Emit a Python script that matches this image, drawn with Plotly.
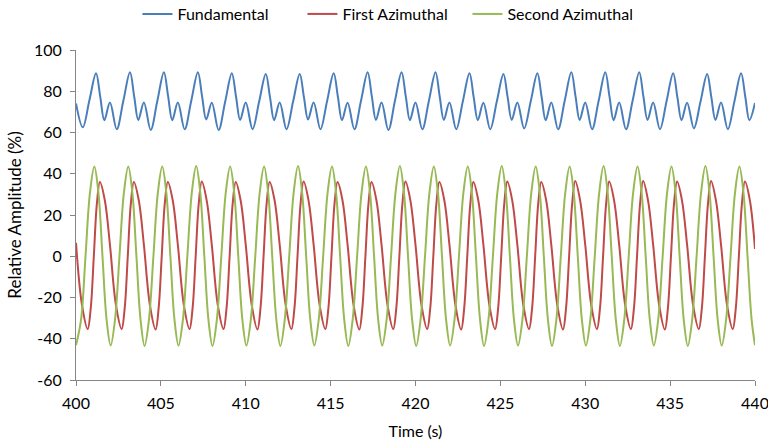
import plotly.graph_objects as go

# ---- data (key points; drawn with spline smoothing) ----
fund_t = [
    400.00, 400.40, 400.79, 401.18, 401.43, 401.67,
    402.00, 402.40, 402.79, 403.18, 403.43, 403.67,
    404.00, 404.40, 404.79, 405.18, 405.43, 405.67,
    406.00, 406.40, 406.79, 407.18, 407.43, 407.67,
    408.00, 408.40, 408.79, 409.18, 409.43, 409.67,
    410.00, 410.40, 410.79, 411.18, 411.43, 411.67,
    412.00, 412.40, 412.79, 413.18, 413.43, 413.67,
    414.00, 414.40, 414.79, 415.18, 415.43, 415.67,
    416.00, 416.40, 416.79, 417.18, 417.43, 417.67,
    418.00, 418.40, 418.79, 419.18, 419.43, 419.67,
    420.00, 420.40, 420.79, 421.18, 421.43, 421.67,
    422.00, 422.40, 422.79, 423.18, 423.43, 423.67,
    424.00, 424.40, 424.79, 425.18, 425.43, 425.67,
    426.00, 426.40, 426.79, 427.18, 427.43, 427.67,
    428.00, 428.40, 428.79, 429.18, 429.43, 429.67,
    430.00, 430.40, 430.79, 431.18, 431.43, 431.67,
    432.00, 432.40, 432.79, 433.18, 433.43, 433.67,
    434.00, 434.40, 434.79, 435.18, 435.43, 435.67,
    436.00, 436.40, 436.79, 437.18, 437.43, 437.67,
    438.00, 438.40, 438.79, 439.18, 439.43, 439.67,
    440.00,
]
fund_v = [
    74.1, 62.5, 75.6, 88.7, 77.2, 66.0,
    74.5, 61.6, 75.4, 89.2, 77.4, 66.1,
    74.6, 61.2, 75.3, 89.2, 77.4, 66.0,
    74.5, 61.6, 75.4, 89.2, 77.4, 66.3,
    74.4, 61.2, 75.0, 88.7, 77.2, 66.1,
    74.5, 61.6, 75.0, 88.4, 77.0, 66.0,
    74.5, 61.6, 75.0, 88.4, 77.0, 66.3,
    74.5, 61.6, 75.2, 88.7, 77.2, 66.0,
    74.4, 61.6, 75.4, 89.2, 77.4, 66.1,
    74.5, 61.2, 75.4, 89.2, 77.4, 66.0,
    74.5, 61.6, 75.4, 89.2, 77.2, 66.1,
    74.5, 61.6, 75.2, 88.7, 77.0, 66.0,
    74.4, 61.6, 75.0, 88.4, 77.0, 66.1,
    74.5, 62.0, 75.2, 88.7, 77.2, 66.0,
    74.5, 61.6, 75.4, 89.2, 77.4, 66.1,
    74.6, 61.6, 75.4, 89.2, 77.4, 66.0,
    74.5, 61.6, 75.4, 89.2, 77.2, 66.1,
    74.5, 61.6, 75.2, 88.7, 77.0, 66.0,
    74.4, 62.0, 75.0, 88.4, 77.0, 66.1,
    74.5, 61.6, 75.2, 88.7, 77.2, 66.0,
    74.3,
]

first_t = [
    400.00, 400.35, 400.69, 400.87, 401.05, 401.23, 401.41, 401.70,
    402.00, 402.35, 402.69, 402.87, 403.05, 403.23, 403.41, 403.70,
    404.00, 404.35, 404.69, 404.87, 405.05, 405.23, 405.41, 405.70,
    406.00, 406.35, 406.69, 406.87, 407.05, 407.23, 407.41, 407.70,
    408.00, 408.35, 408.69, 408.87, 409.05, 409.23, 409.41, 409.70,
    410.00, 410.35, 410.69, 410.87, 411.05, 411.23, 411.41, 411.70,
    412.00, 412.35, 412.69, 412.87, 413.05, 413.23, 413.41, 413.70,
    414.00, 414.35, 414.69, 414.87, 415.05, 415.23, 415.41, 415.70,
    416.00, 416.35, 416.69, 416.87, 417.05, 417.23, 417.41, 417.70,
    418.00, 418.35, 418.69, 418.87, 419.05, 419.23, 419.41, 419.70,
    420.00, 420.35, 420.69, 420.87, 421.05, 421.23, 421.41, 421.70,
    422.00, 422.35, 422.69, 422.87, 423.05, 423.23, 423.41, 423.70,
    424.00, 424.35, 424.69, 424.87, 425.05, 425.23, 425.41, 425.70,
    426.00, 426.35, 426.69, 426.87, 427.05, 427.23, 427.41, 427.70,
    428.00, 428.35, 428.69, 428.87, 429.05, 429.23, 429.41, 429.70,
    430.00, 430.35, 430.69, 430.87, 431.05, 431.23, 431.41, 431.70,
    432.00, 432.35, 432.69, 432.87, 433.05, 433.23, 433.41, 433.70,
    434.00, 434.35, 434.69, 434.87, 435.05, 435.23, 435.41, 435.70,
    436.00, 436.35, 436.69, 436.87, 437.05, 437.23, 437.41, 437.70,
    438.00, 438.35, 438.69, 438.87, 439.05, 439.23, 439.41, 439.70,
    440.00,
]
first_v = [
    6.5, -23.5, -35.3, -25.0, 0.0, 25.5, 36.0, 27.0,
    5.5, -23.5, -35.3, -25.0, 0.0, 25.5, 36.0, 27.0,
    5.5, -23.5, -35.5, -25.0, 0.0, 25.5, 36.0, 27.0,
    5.5, -23.5, -35.3, -25.0, 0.0, 25.5, 36.2, 27.0,
    5.5, -23.5, -35.3, -25.0, 0.0, 25.5, 36.0, 27.0,
    5.5, -23.5, -35.5, -25.0, 0.0, 25.5, 36.0, 27.0,
    5.5, -23.5, -35.3, -25.0, 0.0, 25.5, 36.2, 27.0,
    5.5, -23.5, -35.3, -25.0, 0.0, 25.5, 36.0, 27.0,
    5.5, -23.5, -35.5, -25.0, 0.0, 25.5, 36.0, 27.0,
    5.5, -23.5, -35.3, -25.0, 0.0, 25.5, 36.2, 27.0,
    5.5, -23.5, -35.3, -25.0, 0.0, 25.5, 36.0, 27.0,
    5.5, -23.5, -35.5, -25.0, 0.0, 25.5, 36.0, 27.0,
    5.5, -23.5, -35.3, -25.0, 0.0, 25.5, 36.2, 27.0,
    5.5, -23.5, -35.3, -25.0, 0.0, 25.5, 36.0, 27.0,
    5.5, -23.5, -35.5, -25.0, 0.0, 25.5, 36.5, 27.0,
    5.5, -23.5, -35.3, -25.0, 0.0, 25.5, 36.2, 27.0,
    5.5, -23.5, -35.3, -25.0, 0.0, 25.5, 36.5, 27.0,
    5.5, -23.5, -35.5, -25.0, 0.0, 25.5, 36.2, 27.0,
    5.5, -23.5, -35.3, -25.0, 0.0, 25.5, 36.5, 27.0,
    5.5, -23.5, -35.3, -25.0, 0.0, 25.5, 36.2, 27.0,
    3.5,
]

second_t = [
    400.00, 400.30, 400.56, 400.82, 401.08, 401.32, 401.56, 401.80,
    402.04, 402.30, 402.56, 402.82, 403.08, 403.32, 403.56, 403.80,
    404.04, 404.30, 404.56, 404.82, 405.08, 405.32, 405.56, 405.80,
    406.04, 406.30, 406.56, 406.82, 407.08, 407.32, 407.56, 407.80,
    408.04, 408.30, 408.56, 408.82, 409.08, 409.32, 409.56, 409.80,
    410.04, 410.30, 410.56, 410.82, 411.08, 411.32, 411.56, 411.80,
    412.04, 412.30, 412.56, 412.82, 413.08, 413.32, 413.56, 413.80,
    414.04, 414.30, 414.56, 414.82, 415.08, 415.32, 415.56, 415.80,
    416.04, 416.30, 416.56, 416.82, 417.08, 417.32, 417.56, 417.80,
    418.04, 418.30, 418.56, 418.82, 419.08, 419.32, 419.56, 419.80,
    420.04, 420.30, 420.56, 420.82, 421.08, 421.32, 421.56, 421.80,
    422.04, 422.30, 422.56, 422.82, 423.08, 423.32, 423.56, 423.80,
    424.04, 424.30, 424.56, 424.82, 425.08, 425.32, 425.56, 425.80,
    426.04, 426.30, 426.56, 426.82, 427.08, 427.32, 427.56, 427.80,
    428.04, 428.30, 428.56, 428.82, 429.08, 429.32, 429.56, 429.80,
    430.04, 430.30, 430.56, 430.82, 431.08, 431.32, 431.56, 431.80,
    432.04, 432.30, 432.56, 432.82, 433.08, 433.32, 433.56, 433.80,
    434.04, 434.30, 434.56, 434.82, 435.08, 435.32, 435.56, 435.80,
    436.04, 436.30, 436.56, 436.82, 437.08, 437.32, 437.56, 437.80,
    438.04, 438.30, 438.56, 438.82, 439.08, 439.32, 439.56, 439.80,
    440.00,
]
second_v = [
    -43.2, -30.6, 0.0, 30.6, 43.5, 30.8, 0.0, -30.6,
    -43.3, -30.6, 0.0, 30.6, 43.5, 30.8, 0.0, -30.6,
    -43.5, -30.6, 0.0, 30.6, 43.5, 30.8, 0.0, -30.6,
    -43.3, -30.6, 0.0, 30.6, 43.7, 30.8, 0.0, -30.6,
    -43.5, -30.6, 0.0, 30.6, 43.5, 30.8, 0.0, -30.6,
    -43.3, -30.6, 0.0, 30.6, 43.5, 30.8, 0.0, -30.6,
    -43.5, -30.6, 0.0, 30.6, 43.7, 30.8, 0.0, -30.6,
    -43.3, -30.6, 0.0, 30.6, 43.5, 30.8, 0.0, -30.6,
    -43.5, -30.6, 0.0, 30.6, 43.5, 30.8, 0.0, -30.6,
    -43.3, -30.6, 0.0, 30.6, 43.7, 30.8, 0.0, -30.6,
    -43.5, -30.6, 0.0, 30.6, 43.5, 30.8, 0.0, -30.6,
    -43.3, -30.6, 0.0, 30.6, 43.5, 30.8, 0.0, -30.6,
    -43.5, -30.6, 0.0, 30.6, 43.7, 30.8, 0.0, -30.6,
    -43.3, -30.6, 0.0, 30.6, 43.5, 30.8, 0.0, -30.6,
    -43.5, -30.6, 0.0, 30.6, 43.5, 30.8, 0.0, -30.6,
    -43.3, -30.6, 0.0, 30.6, 43.7, 30.8, 0.0, -30.6,
    -43.5, -30.6, 0.0, 30.6, 43.5, 30.8, 0.0, -30.6,
    -43.3, -30.6, 0.0, 30.6, 43.5, 30.8, 0.0, -30.6,
    -43.5, -30.6, 0.0, 30.6, 43.7, 30.8, 0.0, -30.6,
    -43.3, -30.6, 0.0, 30.6, 43.5, 30.8, 0.0, -30.6,
    -43.2,
]

series_names = ["Fundamental", "First Azimuthal", "Second Azimuthal"]
x_ticks = [400, 405, 410, 415, 420, 425, 430, 435, 440]
y_ticks = [-60, -40, -20, 0, 20, 40, 60, 80, 100]

colors = ["#4A7EBB", "#BE4B48", "#98B954"]
FONT = "Lato"
FS = 16

fig = go.Figure()
for name, t, v, c in zip(series_names,
                         [fund_t, first_t, second_t],
                         [fund_v, first_v, second_v], colors):
    fig.add_trace(go.Scatter(x=t, y=v, mode="lines", name=name,
                             line=dict(color=c, width=2, shape="spline", smoothing=1.0)))

axis_common = dict(showgrid=False, zeroline=False, showline=True,
                   linecolor="#868686", linewidth=1, ticks="outside",
                   ticklen=5, tickcolor="#868686",
                   tickfont=dict(family=FONT, size=FS, color="#000000"),
                   ticklabeloverflow="allow", mirror=False)

fig.update_xaxes(range=[400, 440], tickvals=x_ticks, ticktext=[str(v) for v in x_ticks],
                 ticklabelstandoff=4,
                 title=dict(text="Time (s)", font=dict(family=FONT, size=FS, color="#000000"),
                            standoff=14),
                 **axis_common)
fig.update_yaxes(range=[-60, 100], tickvals=y_ticks, ticktext=[str(v) for v in y_ticks],
                 ticklabelstandoff=5,
                 title=dict(text="Relative Amplitude (%)",
                            font=dict(family=FONT, size=17, color="#000000"), standoff=8),
                 **axis_common)

fig.update_layout(
    width=768, height=442,
    margin=dict(l=76, r=13, t=50, b=62, autoexpand=False),
    plot_bgcolor="white", paper_bgcolor="white",
    font=dict(family=FONT, size=FS, color="#000000"),
    legend=dict(orientation="h", x=0.455, xanchor="center", y=1.109, yanchor="middle",
                font=dict(family=FONT, size=FS, color="#000000"),
                bgcolor="rgba(0,0,0,0)", itemwidth=30, tracegroupgap=0,
                entrywidth=120),
    showlegend=True,
)

fig.write_html("out.html")
